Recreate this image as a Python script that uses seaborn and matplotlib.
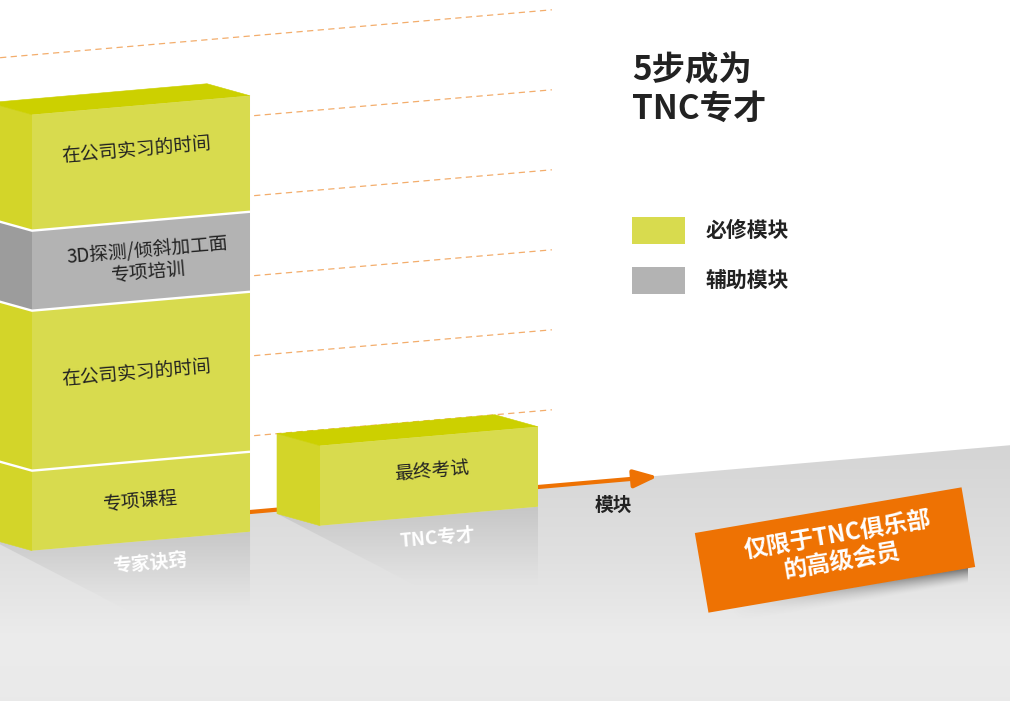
import numpy as np
import pandas as pd
import matplotlib
matplotlib.use("Agg")
import matplotlib.pyplot as plt
import seaborn as sns
from matplotlib.patches import Polygon, Rectangle
from matplotlib.transforms import Affine2D

# ---------------- data ----------------
categories = ["专家诀窍", "TNC专才"]
segment_category = ["专家诀窍", "专家诀窍", "专家诀窍", "专家诀窍", "TNC专才"]
segment_labels = ["专项课程", "在公司实习的时间", "3D探测/倾斜加工面\n专项培训",
                  "在公司实习的时间", "最终考试"]
segment_values = [1.0, 2.0, 1.0, 1.45, 1.0]
segment_module = ["必修模块", "必修模块", "辅助模块", "必修模块", "必修模块"]
module_names = ["必修模块", "辅助模块"]
grid_levels = [1, 2, 3, 4, 5, 6]
title_text = "5步成为\nTNC专才"
axis_label = "模块"
banner_text = "仅限于TNC俱乐部\n的高级会员"

# ---------------- style ----------------
FRONT = {"必修模块": "#d8db4e", "辅助模块": "#b3b3b3"}
SIDE = {"必修模块": "#d3d529", "辅助模块": "#9c9c9c"}
TOP = {"必修模块": "#ccd000", "辅助模块": "#c8c8c8"}
ORANGE = "#ee7203"
GRID_ORANGE = "#f3ad6c"
TEXT_DARK = "#222222"

sns.set_theme(style="white")
plt.rcParams["font.family"] = ["Noto Sans CJK SC", "DejaVu Sans"]

W_PX, H_PX = 1010, 701
fig = plt.figure(figsize=(W_PX / 100, H_PX / 100), dpi=100)
ax = fig.add_axes([0, 0, 1, 1])

XLIM = (-0.4896, 3.0174)
YLIM = (-1.9975, 6.765)
BAR_W = 0.757
S = 0.3125                        # oblique skew of the front plane
DEPTH = np.array([-0.1493, 0.15])  # depth vector (towards the back wall)
ROT = np.degrees(np.arctan(S * 80 / 288))


def P(x, v):
    return np.array([x, v + S * x])


def Bk(x, v):
    return P(x, v) + DEPTH


def grad_fill(axis, verts, color_fn, zorder, n=200):
    verts = np.asarray(verts, dtype=float)
    poly = Polygon(verts, closed=True, facecolor="none", edgecolor="none")
    axis.add_patch(poly)
    x0, x1 = verts[:, 0].min(), verts[:, 0].max()
    y0, y1 = verts[:, 1].min(), verts[:, 1].max()
    vs = np.linspace(y1, y0, n)
    img = np.array([color_fn(v) for v in vs]).reshape(n, 1, 4)
    im = axis.imshow(img, extent=[x0, x1, y0, y1], aspect="auto", origin="upper",
                     interpolation="bilinear", zorder=zorder)
    im.set_clip_path(poly)
    return im


df = pd.DataFrame(dict(category=segment_category, label=segment_labels,
                       value=segment_values, module=segment_module))
df["bottom"] = df.groupby("category")["value"].cumsum() - df["value"]
df["top"] = df["bottom"] + df["value"]

# ---------------- floor ----------------
edge_l = Bk(XLIM[0] - 1.0, 0.06)
edge_r = Bk(XLIM[1] + 1.0, 0.06)
floor_verts = [edge_l, edge_r, (edge_r[0], YLIM[0] - 0.5), (edge_l[0], YLIM[0] - 0.5)]
f_stops_v = [-2.5, -1.235, -0.235, 1.3, 2.0]
f_stops_g = [0.912, 0.925, 0.88, 0.83, 0.83]


def floor_color(v):
    g = np.interp(v, f_stops_v, f_stops_g)
    return (g, g, g, 1.0)


grad_fill(ax, floor_verts, floor_color, zorder=0)

# ---------------- back-wall grid ----------------
for k in grid_levels:
    a, b = Bk(-0.34, k), Bk(1.576, k)
    ax.plot([a[0], b[0]], [a[1], b[1]], color=GRID_ORANGE, lw=0.9,
            dashes=(5, 3.5), zorder=1)

# ---------------- bars (seaborn) ----------------
skew = Affine2D.from_values(1, S, 0, 1, 0, 0) + ax.transData
geom = {}
for i, row in df.iterrows():
    n0 = len(ax.patches)
    sns.barplot(x=[row["category"]], y=[row["value"]], order=categories,
                color=FRONT[row["module"]], saturation=1, width=BAR_W,
                errorbar=None, linewidth=0, zorder=5, ax=ax)
    pos = categories.index(row["category"])
    for patch in list(ax.patches)[n0:]:
        if abs(patch.get_x() + patch.get_width() / 2 - pos) < 0.2:
            patch.set_y(row["bottom"])
            patch.set_transform(skew)
            geom[i] = (patch.get_x(), patch.get_width())

cat_geom = {}
for i, row in df.iterrows():
    x0, w = geom[i]
    cat_geom[row["category"]] = (x0, w)
    b, t = row["bottom"], row["top"]
    side = [P(x0, b), P(x0, t), Bk(x0, t), Bk(x0, b)]
    ax.add_patch(Polygon(side, closed=True, facecolor=SIDE[row["module"]],
                         edgecolor=SIDE[row["module"]], lw=0.4, zorder=4))
    if t == df.loc[df["category"] == row["category"], "top"].max():
        topf = [P(x0, t), P(x0 + w, t), Bk(x0 + w, t), Bk(x0, t)]
        ax.add_patch(Polygon(topf, closed=True, facecolor=TOP[row["module"]],
                             edgecolor=TOP[row["module"]], lw=0.4, zorder=4))
    if b > 0:
        seg = np.array([Bk(x0, b), P(x0, b), P(x0 + w, b)])
        ax.plot(seg[:, 0], seg[:, 1], color="white", lw=1.7, zorder=6,
                solid_capstyle="butt")

# ---------------- reflections ----------------
for cat in categories:
    x0, w = cat_geom[cat]
    bb, F, R = Bk(x0, 0), P(x0, 0), P(x0 + w, 0)
    Rd = R + np.array([0, -1.0])
    diag = np.array([0.503, -0.9375])
    kk = (bb[1] - Rd[1]) / 0.9375
    De = bb + diag * kk
    verts = [bb, F, R, Rd, De]
    vtop, vbot = max(p[1] for p in verts), min(p[1] for p in verts)

    def refl(v, vtop=vtop, vbot=vbot):
        f = (v - vbot) / (vtop - vbot)
        return (0.70, 0.70, 0.70, 0.5 * f ** 1.3)

    grad_fill(ax, verts, refl, zorder=2)

# ---------------- axis arrow ----------------
ax.annotate("", xy=Bk(1.944, 0.05), xytext=Bk(XLIM[0] - 0.2, 0.05),
            arrowprops=dict(arrowstyle="-|>,head_length=0.8,head_width=0.3",
                            color=ORANGE, lw=3, mutation_scale=18,
                            shrinkA=0, shrinkB=0),
            zorder=3)

# ---------------- labels on bars ----------------
label_nudge = [0.0, 0.115, -0.01, 0.17, 0.05]
label_dx = [0.0, -0.017, 0.024, -0.017, 0.01]
for i, row in df.iterrows():
    x0, w = geom[i]
    p = P(x0 + w / 2 + label_dx[i], row["bottom"] + row["value"] / 2 + label_nudge[i])
    ax.text(p[0], p[1], row["label"], rotation=ROT, rotation_mode="anchor",
            ha="center", va="center", fontsize=13.5, color=TEXT_DARK,
            linespacing=1.1, zorder=7)

for cat in categories:
    x0, w = cat_geom[cat]
    p = P(x0 + w / 2 + 0.03, -0.28)
    ax.text(p[0], p[1], cat, rotation=ROT, rotation_mode="anchor", ha="center",
            va="center", fontsize=13.5, fontweight="bold", color="white", zorder=3)

ax.set_xlim(XLIM)
ax.set_ylim(YLIM)
ax.set_axis_off()

# ---------------- overlay (title, legend, banner) ----------------
ax2 = fig.add_axes([0, 0, 1, 1])
ax2.set_xlim(0, W_PX)
ax2.set_ylim(H_PX, 0)
ax2.set_facecolor("none")
ax2.set_axis_off()

ax2.text(632, 90, title_text, ha="left", va="center", fontsize=24,
         fontweight="heavy", color=TEXT_DARK, linespacing=1.2)

for j, m in enumerate(module_names):
    y = 216.7 + 50 * j
    ax2.add_patch(Rectangle((631.7, y), 53.3, 27.3, facecolor=FRONT[m], edgecolor="none"))
    ax2.text(706, y + 14, m, ha="left", va="center", fontsize=15,
             fontweight="bold", color=TEXT_DARK)

ax2.text(613, 505, axis_label, ha="center", va="center", fontsize=13.5,
         fontweight="bold", color=TEXT_DARK)

# banner
cx, cy, bw, bh, ang = 835, 550, 270.6, 80.8, 9.72
th = np.radians(ang)
u = np.array([np.cos(th), -np.sin(th)])
nvec = np.array([np.sin(th), np.cos(th)])
c = np.array([cx, cy])
TL = c - bw / 2 * u - bh / 2 * nvec
TR = c + bw / 2 * u - bh / 2 * nvec
BR = c + bw / 2 * u + bh / 2 * nvec
BL = c - bw / 2 * u + bh / 2 * nvec

# shadow under banner
sx0, sx1, sy0, sy1 = 700, 968, 560, 630
xx, yy = np.meshgrid(np.linspace(sx0, sx1, 300), np.linspace(sy0, sy1, 140))
y_edge = BL[1] + (xx - BL[0]) * (BR[1] - BL[1]) / (BR[0] - BL[0])
d = yy - y_edge
alpha = np.where(d >= -1, np.clip(1 - d / 15.0, 0, 1) ** 1.4, 0)
alpha *= np.clip((xx - 730) / 238, 0, 1) ** 1.2 * 0.85
shadow = np.zeros(xx.shape + (4,))
shadow[..., :3] = 0.38
shadow[..., 3] = alpha
ax2.imshow(shadow, extent=[sx0, sx1, sy1, sy0], origin="upper", aspect="auto",
           interpolation="bilinear", zorder=1)

ax2.add_patch(Polygon([TL, TR, BR, BL], closed=True, facecolor=ORANGE,
                      edgecolor="none", zorder=2))
ax2.text(840, 548, banner_text, rotation=ang, rotation_mode="anchor",
         ha="center", va="center", fontsize=17, fontweight="bold",
         color="white", linespacing=1.15, zorder=3)
ax2.set_xlim(0, W_PX)
ax2.set_ylim(H_PX, 0)

fig.savefig("out.png", dpi=100, facecolor="white")
